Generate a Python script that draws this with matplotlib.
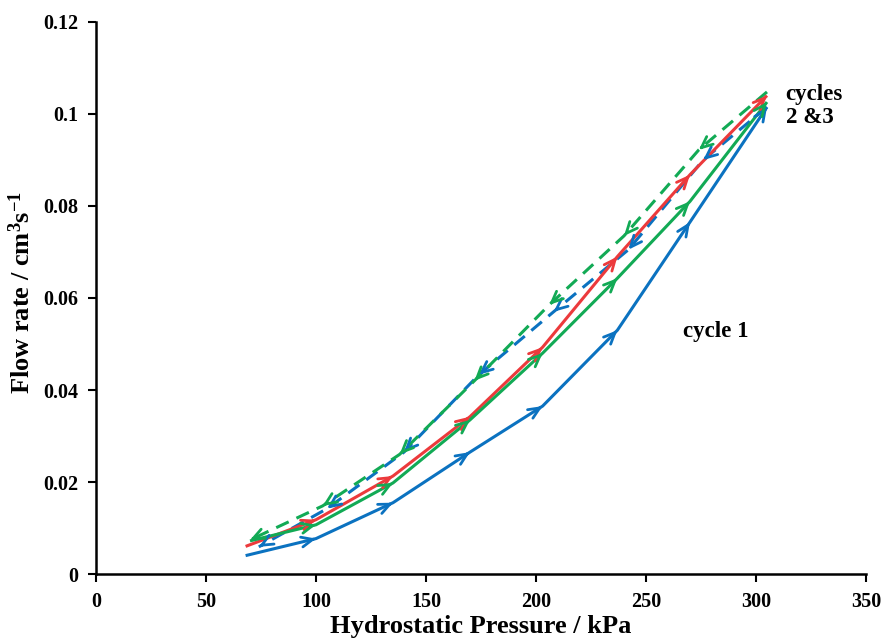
import matplotlib
matplotlib.use("Agg")
import matplotlib.pyplot as plt
from matplotlib.ticker import FuncFormatter

# pressure (kPa) and flow rate (cm3/s)
p_up = [68, 100, 135, 170, 203, 237, 270, 305]
blue_up = [0.0040, 0.0077, 0.0155, 0.0265, 0.0365, 0.0530, 0.0765, 0.1015]
red_up = [0.0060, 0.0118, 0.0213, 0.0342, 0.0493, 0.0690, 0.0868, 0.1040]
green_p_up = [70, 100, 135, 170, 203, 237, 270, 305]
green_up = [0.0072, 0.0107, 0.0198, 0.0335, 0.0480, 0.0643, 0.0810, 0.1026]

blue_p_down = [305, 276, 242, 208, 174, 140, 105, 74]
blue_down = [0.1015, 0.0900, 0.0705, 0.0570, 0.0433, 0.0265, 0.0142, 0.0059]
green_p_down = [305, 274, 240, 206, 172, 138, 103, 70]
green_down = [0.1048, 0.0922, 0.0735, 0.0585, 0.0420, 0.0260, 0.0148, 0.0074]

BLUE = "#0B72C0"
RED = "#EC3A3C"
GREEN = "#12AA55"

plt.rcParams["font.family"] = ["Liberation Serif", "DejaVu Serif"]
plt.rcParams["font.weight"] = "bold"
plt.rcParams["mathtext.fontset"] = "custom"
plt.rcParams["mathtext.rm"] = "Liberation Serif:bold"
plt.rcParams["mathtext.it"] = "Liberation Serif:bold"
plt.rcParams["mathtext.bf"] = "Liberation Serif:bold"


def draw_series(ax, xs, ys, color, dashed=False):
    ls = (0, (4.5, 2.8)) if dashed else "-"
    ax.plot(xs, ys, color=color, lw=2.2, linestyle=ls, solid_capstyle="butt")
    # chevron at every point after the first, pointing the way the cycle runs
    for i in range(1, len(xs)):
        x0, y0 = xs[i - 1], ys[i - 1]
        x1, y1 = xs[i], ys[i]
        tail = (x1 - 0.05 * (x1 - x0), y1 - 0.05 * (y1 - y0))
        ax.annotate("", xy=(x1, y1), xytext=tail,
                    arrowprops=dict(arrowstyle="->,head_length=0.45,head_width=0.2",
                                    color=color, lw=2.0, shrinkA=0, shrinkB=0,
                                    mutation_scale=18))


fig = plt.figure(figsize=(8.85, 6.43), dpi=100)
ax = fig.add_axes([0.1085, 0.1073, 0.870, 0.8585])

draw_series(ax, p_up, blue_up, BLUE)
draw_series(ax, blue_p_down, blue_down, BLUE, dashed=True)
draw_series(ax, green_p_down, green_down, GREEN, dashed=True)
draw_series(ax, p_up, red_up, RED)
draw_series(ax, green_p_up, green_up, GREEN)

ax.set_xlim(0, 350)
ax.set_ylim(0, 0.12)
ax.set_xticks(range(0, 351, 50))
ax.set_yticks([0, 0.02, 0.04, 0.06, 0.08, 0.1, 0.12])
ax.yaxis.set_major_formatter(FuncFormatter(lambda v, pos: "%g" % round(v, 3)))

for side in ["top", "right"]:
    ax.spines[side].set_visible(False)
for side in ["left", "bottom"]:
    ax.spines[side].set_linewidth(1.8)
ax.tick_params(direction="out", length=6, width=1.5, labelsize=14.5, pad=7)

ax.set_xlabel("Hydrostatic Pressure / kPa", fontsize=19, fontweight="bold")
ax.set_ylabel("Flow rate / cm$^{3}$s$^{-1}$", fontsize=19, fontweight="bold")
ax.xaxis.set_label_coords(0.5, -0.075)
ax.yaxis.set_label_coords(-0.079, 0.51)

ax.text(313.5, 0.1066, "cycles\n2 &3", fontsize=16.5, fontweight="bold",
        va="top", ha="left", linespacing=1.15)
ax.text(267, 0.0528, "cycle 1", fontsize=16.5, fontweight="bold",
        va="center", ha="left")

fig.savefig("out.png", dpi=100)
